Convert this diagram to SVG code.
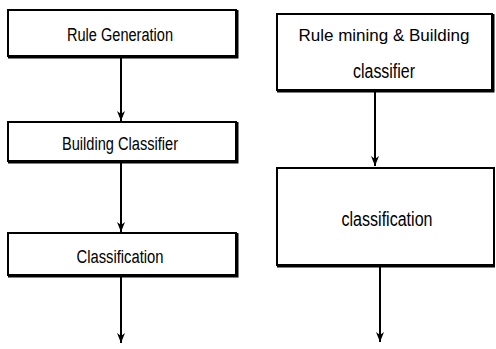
<svg xmlns="http://www.w3.org/2000/svg" width="496" height="349" viewBox="0 0 496 349">
<style>
.box{fill:#fff;stroke:#000;stroke-width:2}
.sh{fill:none;stroke:#000;stroke-width:2}
.t{font-family:"Liberation Sans",Arial,sans-serif;fill:#000;text-anchor:middle}
.s{font-size:18px}
.l{font-size:20px}
.c{fill:none;stroke:#000;stroke-width:2}
</style>
<defs>
<marker id="ah" markerWidth="10" markerHeight="8" refX="10" refY="4" orient="auto" markerUnits="userSpaceOnUse" viewBox="0 0 10 8">
<path d="M0,0 L10,4 L0,8 L3,4 Z" fill="#000"/>
</marker>
</defs>
<g id="connectors">
<line class="c" x1="121" y1="58" x2="121" y2="121" marker-end="url(#ah)"/>
<line class="c" x1="121" y1="163" x2="121" y2="232" marker-end="url(#ah)"/>
<line class="c" x1="121" y1="277" x2="121" y2="343" marker-end="url(#ah)"/>
<line class="c" x1="375" y1="92" x2="375" y2="166" marker-end="url(#ah)"/>
<line class="c" x1="380" y1="267" x2="380" y2="342" marker-end="url(#ah)"/>
</g>
<g id="rule-generation">
<rect class="box" x="8" y="10" width="228" height="46"/>
<path class="sh" d="M8,57.5 H237.5 V10"/>
<text class="t s" x="120" y="41" textLength="106" lengthAdjust="spacingAndGlyphs">Rule Generation</text>
</g>
<g id="building-classifier">
<rect class="box" x="8" y="122" width="228" height="39"/>
<path class="sh" d="M8,162.5 H237.5 V122"/>
<text class="t s" x="120" y="150" textLength="116" lengthAdjust="spacingAndGlyphs">Building Classifier</text>
</g>
<g id="classification-left">
<rect class="box" x="8" y="233" width="228" height="42"/>
<path class="sh" d="M8,276.5 H237.5 V233"/>
<text class="t s" x="120" y="263" textLength="87" lengthAdjust="spacingAndGlyphs">Classification</text>
</g>
<g id="rule-mining">
<rect class="box" x="277" y="14" width="215" height="76"/>
<path class="sh" d="M277,91.5 H493.5 V14"/>
<text class="t" x="384" y="41" font-size="17">Rule mining &amp; Building</text>
<text class="t l" x="384" y="78" textLength="62" lengthAdjust="spacingAndGlyphs">classifier</text>
</g>
<g id="classification-right">
<rect class="box" x="277" y="168" width="217" height="97"/>
<path class="sh" d="M277,266.5 H495"/>
<text class="t l" x="387" y="226" textLength="91" lengthAdjust="spacingAndGlyphs">classification</text>
</g>
</svg>
